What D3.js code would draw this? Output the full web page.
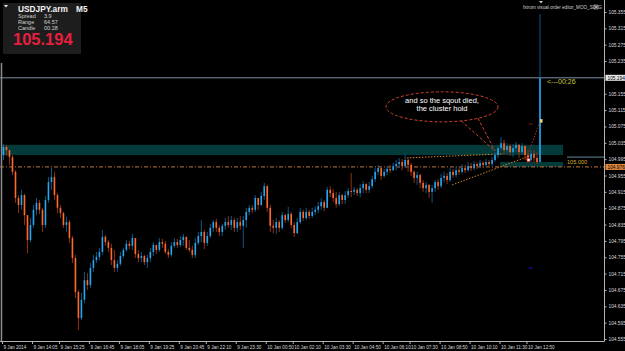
<!DOCTYPE html>
<html>
<head>
<meta charset="utf-8">
<script src="https://cdnjs.cloudflare.com/ajax/libs/d3/7.8.5/d3.min.js"></script>
<style>
body { margin:0; background:#000; overflow:hidden }
svg { display:block }
text { font-family:"Liberation Sans", Arial, sans-serif }
</style>
</head>
<body>
<div id="chart"></div>
<script>
// USDJPY.arm M5 candles (prices); open of each bar = previous close
var firstOpen = 105.005
var closes = [
 105.025,105.017,105.000,104.964,104.900,104.883,104.907,104.858,104.797,104.834,
 104.871,104.888,104.871,104.834,104.895,104.939,104.951,104.907,104.876,104.863,
 104.834,104.841,104.802,104.753,104.670,104.606,104.651,104.699,104.687,104.729,
 104.748,104.756,104.768,104.805,104.792,104.778,104.748,104.729,104.739,104.758,
 104.773,104.788,104.783,104.802,104.763,104.753,104.758,104.743,104.753,104.768,
 104.785,104.773,104.792,104.788,104.768,104.761,104.783,104.792,104.785,104.797,
 104.805,104.778,104.773,104.761,104.790,104.807,104.817,104.790,104.807,104.827,
 104.841,104.827,104.817,104.832,104.841,104.834,104.846,104.827,104.841,104.832,
 104.846,104.866,104.876,104.871,104.900,104.883,104.905,104.929,104.876,104.832,
 104.827,104.841,104.827,104.858,104.846,104.861,104.834,104.814,104.841,104.866,
 104.851,104.866,104.856,104.866,104.871,104.880,104.890,104.876,104.920,104.912,
 104.900,104.885,104.907,104.895,104.907,104.917,104.915,104.920,104.912,104.924,
 104.934,104.920,104.929,104.946,104.964,104.973,104.954,104.964,104.971,104.968,
 104.978,104.983,104.988,104.978,104.993,104.981,104.964,104.949,104.956,104.937,
 104.924,104.932,104.915,104.924,104.939,104.929,104.949,104.954,104.944,104.964,
 104.956,104.968,104.964,104.973,104.968,104.978,104.973,104.983,104.978,104.986,
 104.981,104.988,104.983,104.993,105.005,105.022,105.034,105.017,105.027,105.012,
 105.022,105.030,105.012,105.027,105.005,104.993,105.008,104.998,104.988,105.194
]
var highs = [
 105.032,105.030,105.017,105.005,104.968,104.907,104.920,104.910,104.858,104.851,
 104.883,104.900,104.895,104.876,104.905,104.951,104.973,104.964,104.912,104.883,
 104.866,104.854,104.846,104.807,104.761,104.675,104.668,104.719,104.716,104.741,
 104.761,104.768,104.778,104.822,104.810,104.797,104.788,104.773,104.748,104.768,
 104.778,104.797,104.795,104.812,104.802,104.773,104.768,104.761,104.761,104.778,
 104.792,104.785,104.802,104.800,104.795,104.775,104.792,104.802,104.800,104.807,
 104.812,104.805,104.797,104.783,104.802,104.817,104.846,104.822,104.817,104.836,
 104.846,104.849,104.832,104.836,104.851,104.856,104.856,104.851,104.851,104.856,
 104.856,104.876,104.883,104.883,104.907,104.900,104.915,104.937,104.932,104.883,
 104.846,104.851,104.846,104.866,104.861,104.878,104.866,104.841,104.851,104.876,
 104.871,104.876,104.871,104.876,104.880,104.890,104.900,104.895,104.927,104.929,
 104.922,104.915,104.915,104.910,104.917,104.924,104.961,104.927,104.924,104.934,
 104.942,104.937,104.939,104.954,104.973,104.981,104.978,104.971,104.978,104.981,
 104.986,104.993,104.998,104.995,105.008,105.000,104.986,104.968,104.964,104.959,
 104.944,104.939,104.934,104.932,104.944,104.946,104.959,104.964,104.961,104.973,
 104.971,104.978,104.976,104.983,104.981,104.988,104.986,104.990,104.988,104.993,
 104.990,104.995,104.993,105.000,105.012,105.030,105.049,105.042,105.034,105.032,
 105.032,105.037,105.032,105.034,105.030,105.017,105.017,105.017,105.012,105.350
]
var lows = [
 104.993,105.003,104.981,104.956,104.888,104.863,104.871,104.834,104.765,104.792,
 104.827,104.858,104.861,104.817,104.827,104.888,104.920,104.895,104.863,104.851,
 104.827,104.817,104.790,104.741,104.655,104.577,104.601,104.643,104.675,104.680,
 104.719,104.741,104.748,104.761,104.783,104.768,104.736,104.719,104.719,104.734,
 104.753,104.768,104.775,104.773,104.753,104.743,104.743,104.736,104.729,104.743,
 104.758,104.763,104.768,104.778,104.763,104.753,104.756,104.778,104.778,104.780,
 104.783,104.773,104.768,104.753,104.753,104.785,104.792,104.775,104.783,104.802,
 104.817,104.817,104.807,104.807,104.822,104.827,104.822,104.817,104.817,104.822,
 104.778,104.827,104.858,104.863,104.866,104.871,104.880,104.895,104.866,104.817,
 104.814,104.812,104.817,104.822,104.839,104.841,104.827,104.805,104.812,104.836,
 104.844,104.846,104.849,104.851,104.858,104.863,104.871,104.868,104.876,104.902,
 104.890,104.876,104.880,104.885,104.885,104.900,104.902,104.907,104.905,104.902,
 104.912,104.912,104.912,104.924,104.939,104.956,104.944,104.949,104.956,104.961,
 104.966,104.968,104.973,104.968,104.973,104.964,104.954,104.937,104.932,104.924,
 104.915,104.912,104.900,104.888,104.915,104.920,104.924,104.939,104.934,104.939,
 104.949,104.951,104.956,104.959,104.961,104.964,104.966,104.968,104.971,104.973,
 104.973,104.976,104.976,104.978,104.988,104.998,105.017,105.005,105.008,105.003,
 105.000,105.012,104.998,105.005,104.993,104.986,104.988,104.986,104.983,104.986
]

// axis labels
var priceTicks = [105.355,105.315,105.275,105.235,105.155,105.115,105.075,105.035,104.995,
                  104.955,104.915,104.875,104.835,104.795,104.755,104.715,104.675,104.635,104.595,104.555]
var timeLabels = ["9 Jan 2014","9 Jan 14:05","9 Jan 15:25","9 Jan 16:45","9 Jan 18:05","9 Jan 19:25",
                  "9 Jan 20:45","9 Jan 22:10","9 Jan 23:30","10 Jan 00:50","10 Jan 02:10","10 Jan 03:30",
                  "10 Jan 04:50","10 Jan 06:10","10 Jan 07:30","10 Jan 08:50","10 Jan 10:10","10 Jan 11:30","10 Jan 12:50"]
var labelBars  = [0,10,19,29,39,49,59,68,78,88,97,107,117,127,136,146,156,166,175]

// levels and objects on the chart (bar index / price)
var bidPrice   = 105.194
var linePrice  = 104.976
var levelPrice = 105.000
var zoneUpper  = [-0.5, 186.7, 105.030, 105.005]
var zoneLower  = [165.7, 186.7, 104.988, 104.976]
var trendA     = [[134.6, 104.998], [166.7, 105.008]]
var trendB     = [[149.7, 104.932], [176.3, 105.005]]
var trendRed   = [[174.3, 104.993], [179.0, 105.088]]
var bubbleAt   = [146.3, 105.123]
var bubbleTip  = [164.0, 105.015]
var bubbleText = ["and so the sqout died,", "the cluster hold"]
var infoRows   = [["Spread","3.9"],["Range","64.57"],["Candle","00:28"]]

var svgWidth = 625, svgHeight = 351
var svg = d3.select("#chart").append("svg")
  .attr("width", svgWidth)
  .attr("height", svgHeight)

svg.append("rect").attr("width", svgWidth).attr("height", svgHeight).attr("fill", "#000")

var x = d3.scaleLinear().domain([0, closes.length - 1]).range([3.5, 540])
var y = d3.scaleLinear().domain([104.555, 105.355]).range([339, 12])
var axisX = 604.5, axisY = 341.5

var bars = closes.map(function(c, i) {
  var o = i ? closes[i-1] : firstOpen
  return { i: i, o: o, c: c, h: Math.max(highs[i], o, c), l: Math.min(lows[i], o, c) }
})

// rectangles (teal zones)
function zone(z) {
  svg.append("rect")
    .attr("x", x(z[0])).attr("width", x(z[1]) - x(z[0]))
    .attr("y", y(z[2])).attr("height", y(z[3]) - y(z[2]))
    .attr("fill", "#033b3b")
}
zone(zoneUpper)
zone(zoneLower)

// horizontal lines
svg.append("line").attr("x1", 0).attr("x2", axisX)
  .attr("y1", y(bidPrice)).attr("y2", y(bidPrice))
  .attr("stroke", "#7d8fa3").attr("stroke-width", 1)
svg.append("line").attr("x1", 0).attr("x2", axisX)
  .attr("y1", y(linePrice)).attr("y2", y(linePrice))
  .attr("stroke", "#c0733a").attr("stroke-width", 1).attr("stroke-dasharray", "4,2,1,2")
svg.append("line").attr("x1", 567).attr("x2", axisX)
  .attr("y1", y(levelPrice)).attr("y2", y(levelPrice))
  .attr("stroke", "#5f8898").attr("stroke-width", 1)
svg.append("text").attr("x", 567).attr("y", y(levelPrice) + 6.5)
  .attr("font-size", 5.6).attr("fill", "#d9a52a").text(levelPrice.toFixed(3))

// trend lines
function trend(t, color) {
  svg.append("line")
    .attr("x1", x(t[0][0])).attr("y1", y(t[0][1]))
    .attr("x2", x(t[1][0])).attr("y2", y(t[1][1]))
    .attr("stroke", color).attr("stroke-width", 1).attr("stroke-dasharray", "1.5,1.5")
}
trend(trendA, "#d0862a")
trend(trendB, "#d0862a")
trend(trendRed, "#c42020")

// candles
var upBody = "#25a6f0", upWick = "#0d5788", downBody = "#ff6a2c", downWick = "#93300f"
var g = svg.append("g")
g.selectAll(".wick").data(bars).enter().append("line")
  .attr("x1", function(d){ return x(d.i) })
  .attr("x2", function(d){ return x(d.i) })
  .attr("y1", function(d){ return y(d.h) })
  .attr("y2", function(d){ return y(d.l) })
  .attr("stroke", function(d){ return d.c >= d.o ? upWick : downWick })
  .attr("stroke-width", 1)
g.selectAll(".body").data(bars).enter().append("rect")
  .attr("x", function(d){ return x(d.i) - 0.8 })
  .attr("width", 1.6)
  .attr("y", function(d){ return y(Math.max(d.o, d.c)) })
  .attr("height", function(d){ return Math.max(1, Math.abs(y(d.o) - y(d.c))) })
  .attr("fill", function(d){ return d.c >= d.o ? upBody : downBody })

// small markers near the last bars
var last = closes.length - 1
svg.append("rect").attr("x", x(175) - 1).attr("y", y(104.993) - 1.5).attr("width", 3).attr("height", 3)
  .attr("fill", "#fff").attr("stroke", "#d02020").attr("stroke-width", 0.8)
svg.append("line").attr("x1", x(175.3)).attr("x2", x(176.5)).attr("y1", y(105.081)).attr("y2", y(105.081))
  .attr("stroke", "#8a0f0f").attr("stroke-width", 1.2)
svg.append("line").attr("x1", x(175.3)).attr("x2", x(176.5)).attr("y1", y(104.729)).attr("y2", y(104.729))
  .attr("stroke", "#1010c8").attr("stroke-width", 1.2)
svg.append("rect").attr("x", x(last)).attr("y", y(105.088) - 2).attr("width", 2.5).attr("height", 3.5)
  .attr("fill", "#f2d77a")

svg.append("text").attr("x", x(last) + 7).attr("y", y(bidPrice) + 6.5)
  .attr("font-size", 7).attr("fill", "#c8c83a").text("<---00:26")

// speech bubble
var bx = x(bubbleAt[0]), by = y(bubbleAt[1]), rx = 56, ry = 15
var red = "#d0432d"
svg.append("ellipse").attr("cx", bx).attr("cy", by).attr("rx", rx).attr("ry", ry)
  .attr("fill", "none").attr("stroke", red).attr("stroke-width", 1).attr("stroke-dasharray", "3,2")
;[70, 50].forEach(function(a) {
  var t = a * Math.PI / 180
  svg.append("line")
    .attr("x1", bx + rx * Math.cos(t)).attr("y1", by + ry * Math.sin(t))
    .attr("x2", x(bubbleTip[0])).attr("y2", y(bubbleTip[1]))
    .attr("stroke", red).attr("stroke-width", 1).attr("stroke-dasharray", "3,2")
})
svg.append("text").attr("x", bx).attr("text-anchor", "middle").attr("font-size", 7.5).attr("fill", "#fff")
  .selectAll("tspan").data(bubbleText).enter().append("tspan")
  .attr("x", bx).attr("y", function(d, i){ return by - 4 + i * 8.5 })
  .text(function(d){ return d })

// frame
svg.append("line").attr("x1", 1.5).attr("x2", 1.5).attr("y1", 63).attr("y2", axisY)
  .attr("stroke", "#8c8c8c").attr("stroke-width", 1.5)
svg.append("line").attr("x1", 0).attr("x2", axisX).attr("y1", axisY).attr("y2", axisY)
  .attr("stroke", "#b4b4b4").attr("stroke-width", 1)
svg.append("line").attr("x1", axisX).attr("x2", axisX).attr("y1", 0).attr("y2", axisY)
  .attr("stroke", "#b4b4b4").attr("stroke-width", 1)

// price axis
var yAxis = svg.append("g").attr("transform", "translate(" + axisX + ",0)")
  .call(d3.axisRight(y).tickValues(priceTicks).tickSize(2).tickPadding(2).tickFormat(d3.format(".3f")))
yAxis.select(".domain").remove()
yAxis.selectAll("line").attr("stroke", "#b4b4b4")
yAxis.selectAll("text").attr("font-size", 4.8).attr("fill", "#d8d8d8").attr("font-family", "Liberation Sans, Arial")

function priceBox(p, bg) {
  svg.append("rect").attr("x", axisX + 1).attr("y", y(p) - 3).attr("width", 20).attr("height", 6).attr("fill", bg)
  svg.append("text").attr("x", axisX + 3).attr("y", y(p) + 1.8).attr("font-size", 4.8).attr("fill", "#000")
    .text(p.toFixed(3))
}
priceBox(bidPrice, "#e6e6e6")
priceBox(linePrice, "#e0873e")

// time axis
var xAxis = svg.append("g").attr("transform", "translate(-1.5," + axisY + ")")
  .call(d3.axisBottom(x).tickValues(labelBars).tickSize(2.5).tickPadding(1.5)
    .tickFormat(function(d, i){ return timeLabels[i] }))
xAxis.select(".domain").remove()
xAxis.selectAll("line").attr("stroke", "#b4b4b4")
xAxis.selectAll("text").attr("text-anchor", "start").attr("dx", 1).attr("font-size", 4.6)
  .attr("fill", "#d8d8d8").attr("font-family", "Liberation Sans, Arial")

// top-right indicator label and chart shift marker
svg.append("text").attr("x", 523).attr("y", 9).attr("font-size", 4.6).attr("fill", "#cfcfcf")
  .text("fxtrom visual order editor_MOO_S0XG")
svg.append("rect").attr("x", 594).attr("y", 5).attr("width", 4).attr("height", 4)
  .attr("fill", "none").attr("stroke", "#bbb").attr("stroke-width", 0.6)
svg.append("path").attr("d", "M594.8,5.8L597.2,8.2M597.2,5.8L594.8,8.2").attr("stroke", "#ddd").attr("stroke-width", 0.6)
svg.append("path").attr("d", "M539,1L543,1L541,3.5Z").attr("fill", "#ccc")

// info panel
var panel = svg.append("g")
panel.append("rect").attr("x", 3).attr("y", 3).attr("width", 78).attr("height", 51).attr("fill", "#1d1d1d")
panel.append("path").attr("d", "M4,5L8,5L6,7.5Z").attr("fill", "#eee")
panel.append("text").attr("x", 18).attr("y", 11.5).attr("font-size", 8.3).attr("font-weight", "bold")
  .attr("fill", "#f4f4f4").text("USDJPY.arm")
panel.append("text").attr("x", 76).attr("y", 11.5).attr("font-size", 8.3).attr("font-weight", "bold")
  .attr("fill", "#f4f4f4").text("M5")
infoRows.forEach(function(r, i) {
  panel.append("text").attr("x", 18).attr("y", 17.8 + i * 5.9).attr("font-size", 5.5).attr("fill", "#cfcfcf").text(r[0])
  panel.append("text").attr("x", 44).attr("y", 17.8 + i * 5.9).attr("font-size", 5.5).attr("fill", "#cfcfcf").text(r[1])
})
panel.append("text").attr("x", 13).attr("y", 44.5).attr("font-size", 16.5).attr("font-weight", "bold")
  .attr("fill", "#e5203f").text(bidPrice.toFixed(3))
</script>
</body>
</html>
